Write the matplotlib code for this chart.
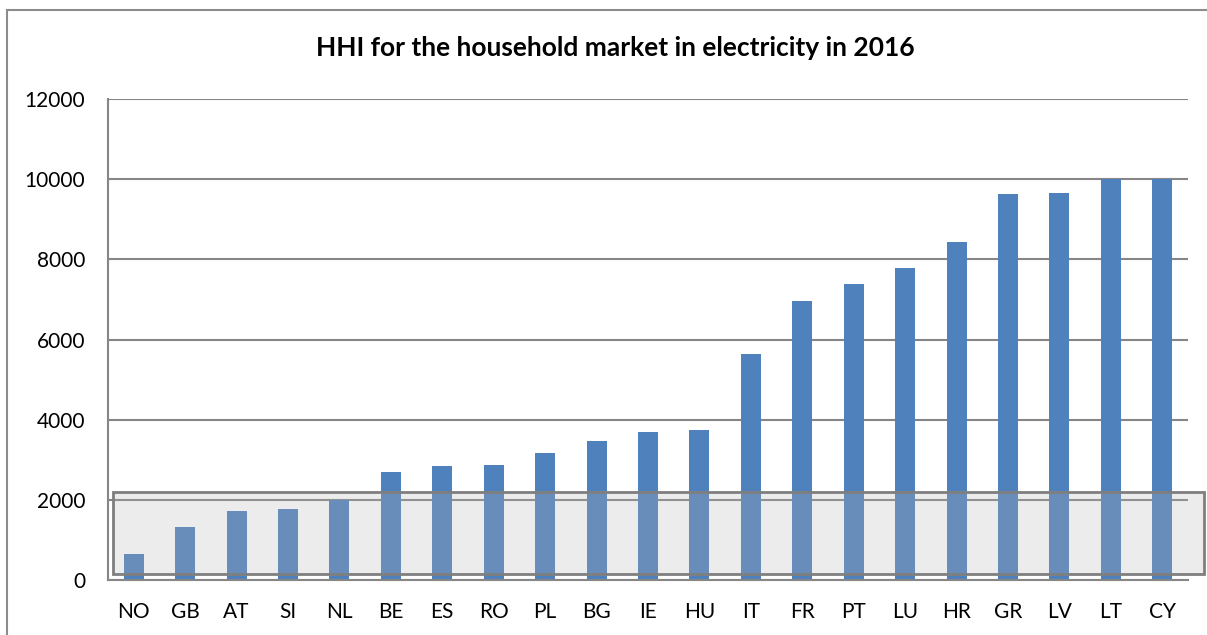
import matplotlib.pyplot as plt
from matplotlib.patches import Rectangle

countries = ["NO", "GB", "AT", "SI", "NL", "BE", "ES", "RO", "PL", "BG", "IE",
             "HU", "IT", "FR", "PT", "LU", "HR", "GR", "LV", "LT", "CY"]
hhi = [650, 1315, 1720, 1770, 1990, 2695, 2845, 2875, 3170, 3460, 3680,
       3745, 5630, 6950, 7375, 7775, 8425, 9630, 9655, 10000, 10000]
y_ticks = [0, 2000, 4000, 6000, 8000, 10000, 12000]

# shaded band highlighting the low-concentration markets
band_low, band_high = 150, 2200

plt.rcParams['font.family'] = ['Lato', 'DejaVu Sans']

fig = plt.figure(figsize=(12.07, 6.35), dpi=100)
W, H = 1207, 635
ax = fig.add_axes([108 / W, 1 - 580 / H, (1188 - 108) / W, (580 - 99) / H])

grid_color = '#868686'
ax.set_axisbelow(True)
ax.yaxis.grid(True, color=grid_color, linewidth=1.5)
x = list(range(len(countries)))
ax.bar(x, hhi, width=0.39, color='#4F81BD', zorder=2)

ax.set_xlim(-0.5, len(countries) - 0.5)
ax.set_ylim(0, 12000)
ax.set_yticks(y_ticks)
ax.set_yticklabels([str(v) for v in y_ticks])
ax.set_xticks(x)
ax.set_xticklabels(countries)
ax.tick_params(axis='both', length=0, labelsize=15, colors='black')
ax.tick_params(axis='y', pad=16.5)
ax.tick_params(axis='x', pad=16)

for side in ['top', 'right']:
    ax.spines[side].set_visible(False)
for side in ['left', 'bottom']:
    ax.spines[side].set_color(grid_color)
    ax.spines[side].set_linewidth(1.5)

band = Rectangle((-0.403, band_low), 21.21, band_high - band_low,
                 facecolor=(0.706, 0.706, 0.706, 0.25),
                 edgecolor='#7f7f7f', linewidth=2, zorder=3, clip_on=False)
ax.add_patch(band)

fig.text(615 / W, 1 - 48 / H, 'HHI for the household market in electricity in 2016',
         ha='center', va='center', fontsize=19, fontweight='bold')

# outer chart frame
frame = Rectangle((7 / W, -0.05), 1.05, 1 - 10 / H + 0.05, transform=fig.transFigure,
                  facecolor='none', edgecolor='#8c8c8c', linewidth=1.5)
fig.patches.append(frame)

fig.savefig('out.png', dpi=100)
